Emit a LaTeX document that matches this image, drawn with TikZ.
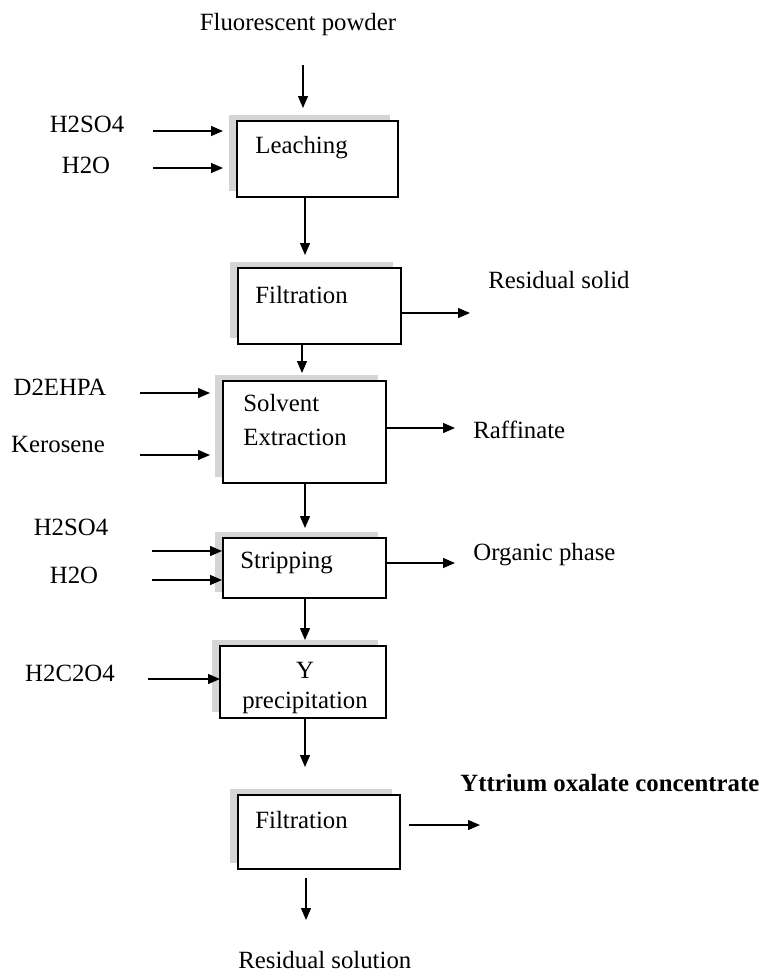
\documentclass[tikz,border=0pt]{standalone}
\usepackage{fontspec}
\setmainfont{Liberation Serif}
\usetikzlibrary{arrows.meta,shadows}
\begin{document}
\begin{tikzpicture}[x=0.5pt,y=-0.5pt,
  every node/.style={font=\fontsize{12.4}{15}\selectfont, inner sep=0pt},
  box/.style={draw=black, line width=0.65pt, fill=white, rectangle,
    drop shadow={shadow xshift=-4pt, shadow yshift=3pt, fill=gray!33, opacity=1}},
  arr/.style={-{Triangle[length=6pt,width=5pt]}, line width=0.65pt}]
\useasboundingbox (0,0) rectangle (761,976);
% boxes
\node[box, minimum width=80.5pt, minimum height=38pt] (leach) at (317.5,159) {};
\node[box, minimum width=81.5pt, minimum height=38pt] (filt1) at (319.5,306) {};
\node[box, minimum width=81.5pt, minimum height=51pt] (se) at (304.5,432) {};
\node[box, minimum width=81.5pt, minimum height=30pt] (strip) at (304.5,568) {};
\node[box, minimum width=83pt, minimum height=36pt] (yprec) at (303,682) {};
\node[box, minimum width=81pt, minimum height=37pt] (filt2) at (319,832) {};
% box texts
\node[anchor=west] (tleach) at (255,148) {Leaching};
\node[anchor=west] (tfilt1) at (255,295) {Filtration};
\node[anchor=west] (tse1) at (243,403) {Solvent};
\node[anchor=west] (tse2) at (243,437) {Extraction};
\node[anchor=west] (tstrip) at (240,563) {Stripping};
\node (ty) at (305,670) {Y};
\node (typ) at (305,703) {precipitation};
\node[anchor=west] (tfilt2) at (255,820) {Filtration};
% outside labels
\node (fp) at (298,25) {Fluorescent powder};
\node (h2so4a) at (87,124) {H2SO4};
\node (h2oa) at (86,165) {H2O};
\node[anchor=west] (rsolid) at (488,280) {Residual solid};
\node (d2) at (60,387) {D2EHPA};
\node (ker) at (58,444) {Kerosene};
\node[anchor=west] (raff) at (473,430) {Raffinate};
\node (h2so4b) at (71,527) {H2SO4};
\node (h2ob) at (74,575) {H2O};
\node[anchor=west] (org) at (473,555) {Organic phase};
\node (h2c2o4) at (70,673) {H2C2O4};
\node[anchor=west, font=\fontsize{12.4}{15}\selectfont\bfseries] (yox) at (460,783) {Yttrium oxalate concentrate};
\node[anchor=west] (rsol) at (238,960) {Residual solution};
% coordinates
\coordinate (a1s) at (303,65);   \coordinate (a1e) at (303,108);
\coordinate (a2s) at (153,131);  \coordinate (a2e) at (223,131);
\coordinate (a3s) at (153,168);  \coordinate (a3e) at (223,168);
\coordinate (a4s) at (305,197);  \coordinate (a4e) at (305,255);
\coordinate (a5s) at (401,313);  \coordinate (a5e) at (470,313);
\coordinate (a6s) at (302,344);  \coordinate (a6e) at (302,373);
\coordinate (a7s) at (140,393);  \coordinate (a7e) at (210,393);
\coordinate (a8s) at (140,455);  \coordinate (a8e) at (210,455);
\coordinate (a9s) at (386,428);  \coordinate (a9e) at (455,428);
\coordinate (a10s) at (305,483); \coordinate (a10e) at (305,528);
\coordinate (a11s) at (152,551); \coordinate (a11e) at (222,551);
\coordinate (a12s) at (152,580); \coordinate (a12e) at (222,580);
\coordinate (a13s) at (386,563); \coordinate (a13e) at (455,563);
\coordinate (a14s) at (305,598); \coordinate (a14e) at (305,640);
\coordinate (a15s) at (148,679); \coordinate (a15e) at (220,679);
\coordinate (a16s) at (305,718); \coordinate (a16e) at (305,767);
\coordinate (a17s) at (409,825); \coordinate (a17e) at (480,825);
\coordinate (a18s) at (306,878); \coordinate (a18e) at (306,920);
% arrows
\foreach \i in {1,...,18} { \draw[arr] (a\i s) -- (a\i e); }
\end{tikzpicture}
\end{document}
